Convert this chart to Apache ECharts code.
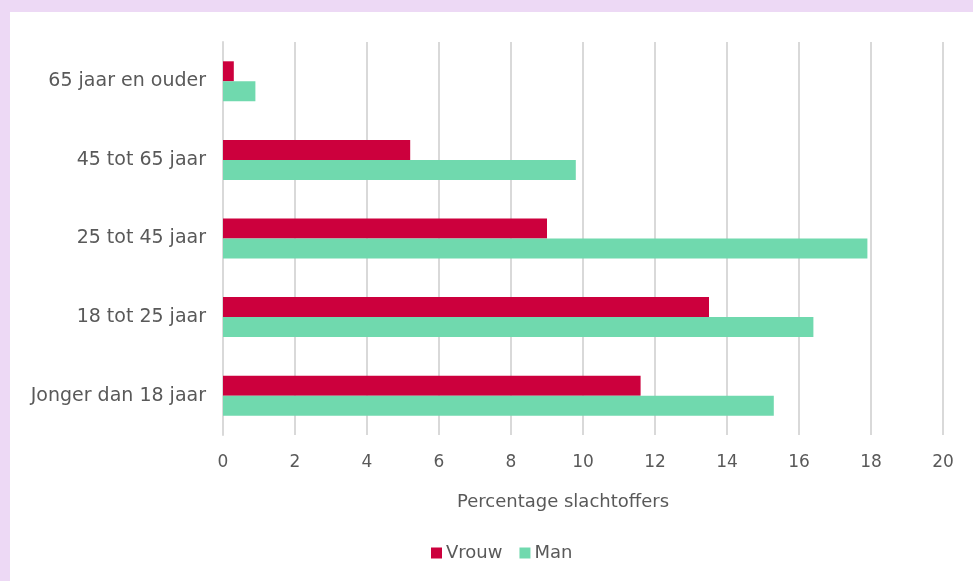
<!DOCTYPE html>
<html>
<head>
<meta charset="utf-8">
<script src="https://cdn.jsdelivr.net/npm/echarts@6/dist/echarts.min.js"></script>
<style>
  html, body { margin: 0; padding: 0; background: #edd9f5; }
  #panel { position: absolute; left: 10px; top: 12px; right: 0; bottom: 0; background: #fff; }
  #chart { width: 963px; height: 569px; }
</style>
</head>
<body>
<div id="panel"><div id="chart"></div></div>
<script>
// bottom to top, as ECharts draws category axes
const categories = ['Jonger dan 18 jaar', '18 tot 25 jaar', '25 tot 45 jaar', '45 tot 65 jaar', '65 jaar en ouder']
const vrouw = [11.6, 13.5, 9.0, 5.2, 0.3]
const man = [15.3, 16.4, 17.9, 9.8, 0.9]
const xTicks = [0, 2, 4, 6, 8, 10, 12, 14, 16, 18, 20]

const font = '"DejaVu Sans", Verdana, sans-serif'
const textColor = '#595959'

const chart = echarts.init(document.getElementById('chart'), null, { renderer: 'canvas' })

chart.setOption({
  animation: false,
  grid: { left: 213, right: 30, top: 30, bottom: 146, containLabel: false },
  legend: {
    data: ['Vrouw', 'Man'],
    bottom: 14,
    left: 416,
    itemWidth: 11,
    itemHeight: 11,
    itemGap: 17,
    icon: 'rect',
    textStyle: { color: textColor, fontSize: 18, fontFamily: font, padding: [0, 0, 0, -1] }
  },
  xAxis: {
    type: 'value',
    min: 0,
    max: 20,
    interval: 2,
    axisLine: { show: false },
    axisTick: { show: false },
    axisLabel: {
      color: textColor, fontSize: 17, fontFamily: font, margin: 19,
      formatter: v => xTicks.includes(v) ? String(v) : ''
    },
    splitLine: { lineStyle: { color: '#d9d9d9', width: 2 } }
  },
  yAxis: {
    type: 'category',
    data: categories,
    axisLine: { show: true, lineStyle: { color: '#d9d9d9', width: 2 } },
    axisTick: { show: false },
    axisLabel: { color: textColor, fontSize: 19, fontFamily: font, margin: 17 }
  },
  graphic: [{
    type: 'text',
    x: 553,
    y: 490,
    style: { text: 'Percentage slachtoffers', fill: textColor, font: '18px ' + font, textAlign: 'center', textVerticalAlign: 'middle' }
  }],
  series: [
    {
      name: 'Vrouw',
      type: 'bar',
      data: vrouw,
      barWidth: 20,
      barGap: '0%',
      itemStyle: { color: '#cc003d' }
    },
    {
      name: 'Man',
      type: 'bar',
      data: man,
      barWidth: 20,
      itemStyle: { color: '#70d9ae' }
    }
  ]
})
</script>
</body>
</html>
